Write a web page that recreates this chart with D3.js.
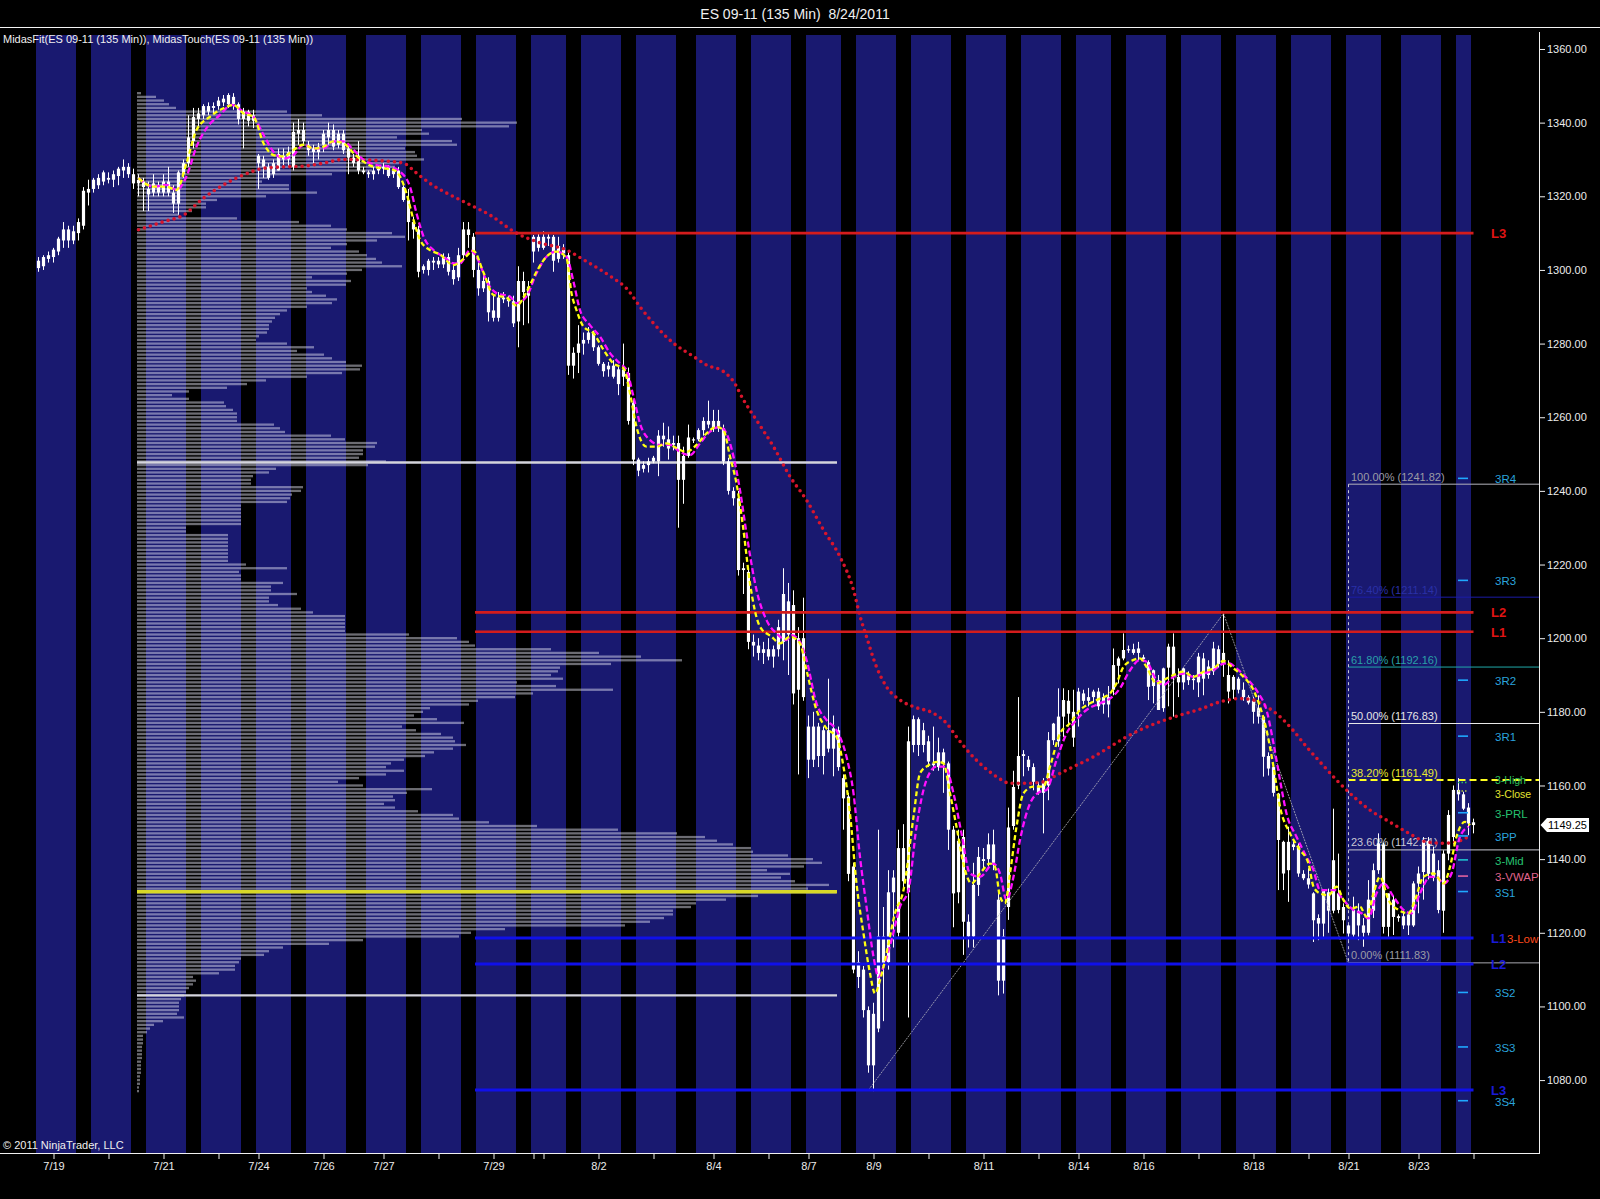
<!DOCTYPE html>
<html><head><meta charset="utf-8">
<script src="https://cdn.jsdelivr.net/npm/d3@7"></script>
<style>
html,body{margin:0;padding:0;background:#000;}
svg{display:block;}
text{font-family:"Liberation Sans",Arial,sans-serif;}
</style>
</head><body>
<svg id="chart" width="1600" height="1199"></svg>
<script>
// ---------------- DATA ----------------
const chartTitle = "ES 09-11 (135 Min)  8/24/2011";
const indicatorTitle = "MidasFit(ES 09-11 (135 Min)), MidasTouch(ES 09-11 (135 Min))";

// 135-minute bars, index 0..287
const opens = [
1300.5,1301,1303,1303.5,1305,1308,1311,1308,1310,1312,
1321,1322,1323,1324,1325,1324.5,1325.5,1327,1328,1326,
1323.5,1324,1322,1321,1323,1321,1324,1321,1318,1326,
1329,1335,1341,1342,1343,1344,1344.5,1345.5,1345,1347,
1345,1341,1343,1340.5,1331,1330,1328,1326,1327,1330,
1330,1328,1337,1338,1334,1333,1332,1334,1336,1338,
1334,1337,1333,1330.5,1331,1327,1326.5,1326,1327,1327.5,
1328,1326,1327,1322.5,1319,1313,1311,1300,1300,1302,
1302.5,1301.5,1303.5,1300,1298,1304,1311,1309,1300,1295,
1297,1289,1287,1292.5,1292,1291.5,1286,1297,1293,1305,
1309,1306,1309,1309,1303,1306,1304,1274,1277.5,1280,
1281,1283,1279,1274.5,1273,1274,1273,1271,1272,1264,
1248.5,1246,1247,1248,1248,1255,1254,1252.5,1253,1243,
1249.5,1254,1254,1256.5,1259,1257,1259,1257,1248,1240,
1238,1219,1218,1199,1198,1196,1197,1195,1197,1199,
1201,1209,1186,1200,1176,1167,1176,1168,1175,1170,
1175,1162,1157,1138,1112,1110,1099,1084,1094,1119,
1112,1131,1120,1143,1131,1171,1178,1171,1172,1166,
1165,1169,1166,1148,1131,1146,1123,1119,1133,1140,
1140,1144,1129,1107,1127,1149,1160,1168,1167,1165,
1160,1158,1160,1172.3,1172,1178.7,1183,1180,1180,1185,
1183,1184,1185.5,1182,1184,1186,1192.5,1194.5,1196.8,1197,
1196,1194.8,1193.5,1187,1188.6,1181,1192,1197.7,1189.5,1188,
1190,1189,1188,1194.5,1190,1191,1197,1193,1190,1186,
1189,1186,1184,1183,1181,1178.7,1168,1165,1157.8,1144.7,
1137,1144,1143.5,1136,1134.8,1130.7,1124,1122.5,1131,1126,
1130.7,1127,1122,1119.5,1126,1122,1120,1126,1137,1144,
1121.6,1129,1124,1124.5,1122,1122,1133.4,1136.5,1145,1135,
1137,1126,1141.5,1146,1158.8,1157.6,1154,1150];

const highs = [
1303.5,1304,1305,1306,1309,1313,1312,1312,1314,1322.5,
1324.5,1325,1326,1327,1326.5,1327,1328,1330,1329,1327.5,
1326,1325,1324,1326,1324,1326,1328,1323,1327,1330,
1342,1344,1344,1345,1345.5,1345.5,1347,1347.5,1348,1348,
1345.5,1344,1343.5,1343.5,1331.5,1331,1329,1330,1333,1333,
1333.5,1340,1341,1340,1335,1334,1334.5,1338,1340,1339.5,
1338,1338,1334,1331.5,1335,1328,1327,1328,1328.5,1329,
1328.5,1328,1328,1323,1322,1314.5,1312,1301.5,1303,1303.5,
1303.5,1304.5,1304.5,1302,1306,1313,1313,1310,1302,1299,
1298,1293,1294,1294,1293,1293,1301,1299.5,1297,1309.5,
1310,1310.5,1310,1309.5,1309,1307,1305,1279,1285,1283,
1284.5,1283.5,1279.5,1275,1275,1275.5,1274,1280,1273.5,1265,
1249,1248,1249,1249.5,1256.5,1258.5,1257.5,1255,1255,1252,
1258,1254.5,1257,1260,1264.5,1262,1262,1258,1249,1241,
1240,1220.5,1219,1201,1200,1199,1200,1198,1205,1219,
1215,1213,1203,1211,1179,1180,1177,1176,1189,1179,
1176,1163,1158,1139,1115,1111,1100,1101,1148,1127,
1137,1137,1148,1149.5,1176,1179,1178.5,1177,1173.5,1176,
1173,1170,1166.5,1149,1148,1148,1125,1139,1143.3,1143,
1147,1148,1131,1121,1154,1164,1184,1169.6,1168,1166,
1161,1162,1174.5,1177,1186.4,1186.4,1185.9,1186,1186.5,1186,
1186.5,1186,1186.5,1185,1187,1197.2,1195,1201.3,1198,1198.5,
1199,1195.5,1194,1191.5,1190,1192,1198.5,1201.3,1191.8,1192,
1191,1190,1196,1196,1194,1199,1198,1206.7,1194,1190,
1189.5,1188,1184.5,1184,1184.5,1179,1169,1166,1158,1145,
1148.8,1145.2,1144.3,1137,1137.5,1131,1125,1131.6,1132,1153.7,
1141.5,1128,1122.1,1129.8,1128,1124,1134.3,1138.8,1147,1144.5,
1130.7,1130,1125,1126,1125.5,1134,1138,1146,1146,1143.4,
1139.7,1142.4,1153.3,1160,1162,1158.3,1155.2,1151];

const lows = [
1299.5,1300,1302,1302,1304,1306,1306,1307,1308,1311,
1317.5,1321,1322,1323,1323.5,1322.5,1323,1325,1325,1322,
1320,1316,1316,1320,1320,1320,1320,1315.5,1315,1325,
1328,1333,1339,1341,1342,1342.5,1343.5,1344.5,1344,1343.5,
1339.5,1333,1339,1338.5,1322,1325,1324.5,1325,1327,1328,
1328,1327,1334,1334,1331,1329,1330,1332,1334,1332.5,
1333,1331.5,1326,1328,1326,1326,1325,1324.5,1326,1326,
1325,1325,1322,1318.5,1308,1308.5,1298,1299,1298.5,1300,
1300.5,1300.5,1298.5,1296,1297,1303,1306,1298,1293,1294,
1286,1286,1286,1291,1290,1284.5,1279,1285,1285.5,1302,
1305,1305.5,1306.5,1299.5,1302,1303,1271.5,1270.5,1272,1277,
1280,1278,1274,1271,1271,1270.5,1266,1268.5,1258,1247,
1244,1245,1245,1247.5,1244,1252,1248.5,1251,1230,1236.5,
1249,1253,1253.5,1255,1257,1256,1256,1247,1239,1236,
1217,1212,1197,1195,1194,1193,1194,1192,1195,1194,
1190,1182,1163,1183,1162,1165,1165,1163,1169,1162.5,
1164,1148,1134,1109,1105,1097,1082,1077,1093,1096,
1110,1116,1119,1132,1097,1169,1168,1169,1165,1164,
1164,1158,1142.5,1121.5,1128,1114,1116,1116,1130,1137,
1138,1137,1103,1103.5,1123.5,1148,1159,1162.5,1164,1158.7,
1157.5,1147,1156,1171,1170.5,1173.2,1176,1170.5,1176,1182,
1181.5,1182.5,1180.5,1179.5,1178.5,1184.5,1187.7,1194,1196,1195.5,
1194,1193.5,1183.2,1182.3,1180.5,1180,1181.5,1178.7,1184,1186,
1187.3,1186,1184,1184.5,1189,1190,1192,1189.5,1182.3,1183.5,
1185,1183,1182,1176.8,1176.8,1162.4,1162.7,1157,1131.6,1131.6,
1128.4,1142.4,1135.2,1134.3,1132,1117.5,1118,1118.9,1120,1125.3,
1125.3,1119.8,1118,1118.9,1118,1116.2,1119.3,1124,1136,1119.8,
1118.9,1119.4,1123,1121,1119.4,1121.6,1125.3,1129,1134.5,1134,
1125.3,1120,1139.7,1144,1155.9,1153.3,1146.5,1147];

const closes = [
1302.5,1303.5,1304,1305.5,1308.5,1311,1308,1310.5,1313,1321.5,
1322,1324.5,1325,1326.5,1324.5,1326,1327.5,1328,1326,1323.5,
1324.5,1322.5,1320.5,1323.5,1321,1324,1321,1318,1326.5,1329,
1336,1341.5,1342.5,1344.5,1344.5,1344.5,1346,1346.5,1347.5,1345,
1341,1343,1340.5,1342,1329,1328,1325,1329,1331.5,1331,
1332,1337.5,1338,1335,1332.5,1332,1333.5,1337,1338,1333.5,
1337,1332.5,1330.5,1329,1327,1326.5,1326,1327,1327.5,1328,
1325.5,1327,1322.5,1319,1313,1311,1299.5,1301,1302.5,1302.5,
1301.5,1303.5,1299.5,1297.5,1304,1311,1309.5,1300,1295,1297,
1288.5,1287,1292.5,1292,1291.5,1285.5,1297,1294,1295.5,1309,
1306,1309,1308.5,1302.5,1306.5,1304.5,1274,1277.5,1280,1281,
1283,1279,1274.5,1272.5,1274,1271,1269,1273,1259,1248.5,
1245.5,1247,1248,1249,1255,1254,1251.5,1253,1243,1249.5,
1254.5,1254,1256.5,1259,1258,1259,1257,1248,1240,1238,
1218.5,1218.5,1199,1198,1196,1197,1195,1197,1203,1212,
1210,1185,1200,1184,1167,1176,1168,1175,1170,1175.5,
1165,1156.5,1136,1110,1108,1099,1084,1098,1119,1111,
1131,1135,1143,1134,1172,1178,1171,1175,1166.5,1165.5,
1169,1166,1148,1130.7,1145,1123,1119,1133,1140.6,1139.5,
1144,1139,1107,1119,1148.6,1159.6,1168,1168.5,1165,1161,
1158,1161,1172.3,1176.8,1178.7,1183.2,1179.5,1173,1185.5,1183,
1184,1185.5,1181.5,1184,1182,1192.7,1194.5,1196.8,1197,1196,
1197.2,1194.3,1186.8,1191.3,1180.5,1191.8,1197.7,1189.5,1188,1191.8,
1188.6,1188.6,1195,1189,1192.3,1197.2,1193,1196,1185.5,1189.5,
1186,1184,1182.5,1180,1178.7,1167.8,1164.6,1158,1145.2,1136.1,
1144.7,1143.3,1136.1,1134.8,1133.1,1123.4,1122.5,1131.6,1126,1139.7,
1126.2,1123.4,1119.8,1126.2,1122,1120,1129,1137,1144.3,1121.6,
1130.7,1124.3,1124.5,1122,1125,1133.4,1136.1,1145.2,1136,1141.5,
1126.2,1141.5,1152,1158.8,1157.6,1153.7,1149.7,1149.25];

const lastPrice = 1149.25;

// session shading (first bar, number of bars) for each blue session band
const sessionStartBars = [0,11,22,33,44,54,66,77,88,99,109,120,132,143,154,164,175,186,197,208,218,229,240,251,262,273,284];
const sessionBarCounts = [8,8,8,8,7,8,8,8,8,7,8,8,8,8,7,8,8,8,8,7,8,8,8,8,7,8,3];

// date axis
const dateTickBars   = [3,14,25,36,44,57,69,80,91,99,101,112,123,135,146,154,167,178,189,200,208,221,232,243,254,262,276,287];
const dateTickLabels = ["7/19","","7/21","","7/24","7/26","7/27","","7/29","","","8/2","","8/4","","8/7","8/9","","8/11","","8/14","8/16","","8/18","","8/21","8/23",""];
const priceTicks = [1080,1100,1120,1140,1160,1180,1200,1220,1240,1260,1280,1300,1320,1340,1360];

// Midas indicator lines: [bar, price]
const midasFitYellow = [[20,1324.9],[23,1322.6],[25.6,1322.6],[27.6,1321.7],[29.6,1329],[31.6,1338],[34.3,1341.6],[37,1343.9],[39,1344.8],[41,1342.5],[43,1341.6],[45,1334.4],[47,1331.2],[49,1330.8],[51,1332.6],[53,1334],[55,1333],[57,1333.5],[59,1334.9],[61,1334.4],[63,1331.7],[65,1329.4],[67,1328],[69,1327.6],[71,1327.2],[72.3,1325.4],[73.6,1320.8],[75,1313.6],[76.3,1308.2],[78.3,1305.4],[80.3,1304.2],[83,1301.3],[85,1303],[87,1305.2],[89,1299.3],[91,1293.2],[93.6,1292.5],[95.6,1290.3],[97.6,1294],[99.6,1299.5],[101.6,1303.6],[103.6,1305],[105.6,1303.2],[106.6,1293.7],[107.6,1289.1],[109,1284.6],[111,1282.8],[113,1278.3],[115,1274.6],[117,1273.3],[118.3,1266.5],[119.6,1257.4],[121.6,1252],[123.6,1252],[125.6,1252.9],[127.6,1251.6],[129.6,1250.6],[131.6,1252.5],[133.6,1255.6],[135.6,1257.4],[137,1256.5],[138.3,1249.3],[139.6,1242],[140.9,1230.3],[142.3,1214.9],[144.3,1203.1],[146.6,1200.4],[148.3,1198.6],[150.3,1200.4],[152.3,1198.6],[153.6,1191.3],[155.6,1180.5],[157.6,1175.5],[159.6,1173.2],[161,1165.1],[162.3,1152.4],[163.6,1133.4],[165,1119.8],[166.3,1109],[167.3,1103.5],[168.3,1107.1],[169.6,1114.4],[171.3,1125.3],[173,1131.6],[175,1151.5],[176.3,1163.3],[178,1165.5],[180,1166.4],[181,1166],[182.3,1157.9],[183.6,1148.8],[185.3,1137],[186.6,1133.4],[188.3,1136.1],[190.3,1138.8],[191.3,1137.9],[192.3,1129.8],[193.3,1128],[194.3,1136.1],[195.6,1148.8],[197,1157.9],[199,1159.7],[201,1159.7],[202.3,1165.1],[204.3,1174.1],[206.3,1176.9],[208.3,1180.5],[210.3,1182.3],[212.3,1183.6],[214.3,1185],[215.6,1187.7],[217,1192.2],[219,1194.1],[220.3,1194.5],[221.6,1192.2],[223.6,1187.7],[225,1188.6],[227,1190],[229,1190.9],[231,1189.5],[233,1190.9],[235,1191.8],[237,1193.8],[239,1191.8],[241,1189.5],[243,1185.9],[244.3,1181.4],[245.6,1175.1],[247,1165.1],[248.3,1154.2],[250.3,1147],[252.3,1142.5],[254,1138.8],[255,1132.5],[256.3,1130.7],[258,1130.2],[259.6,1132.5],[261,1128.9],[262.3,1126.6],[264.3,1127.1],[265.6,1124.4],[267,1130.7],[268.3,1135.2],[270,1128.9],[272,1126.2],[274,1125.3],[275.3,1128.9],[277,1135.2],[279,1136.1],[281,1133.4],[282.3,1137.9],[283.6,1146.1],[285.3,1150.1],[286.3,1149.2]];

const midasTouchMagenta = [[20,1324.9],[23,1322.6],[25.6,1323.1],[27.6,1321.7],[29.6,1325.4],[31.6,1333.5],[33.6,1338.5],[36.3,1342.1],[38.6,1344.8],[41,1343],[43,1341.6],[45,1336.7],[47,1332.1],[49,1330.3],[51,1331.2],[53,1334],[55,1333],[57,1333],[59,1334.9],[61,1334.9],[63,1332.6],[65,1329.9],[67.6,1328.5],[70.3,1328],[72.3,1326.7],[74.3,1322.6],[75.6,1315.4],[77,1309.1],[79,1305.4],[81,1303.6],[83,1301.8],[84.3,1301.8],[86.3,1305.4],[88,1302.5],[89.6,1297],[91.6,1293.7],[94.3,1292.8],[95.6,1291],[97.6,1292.8],[99.6,1299.1],[101.6,1303.6],[103.6,1305],[105.6,1303.6],[107,1296.8],[108.3,1289.1],[110.3,1285],[112.3,1281.9],[114.3,1277.4],[116.3,1274.6],[117.6,1272.8],[119,1265.6],[120.3,1258.3],[122.3,1253.8],[124.3,1252.5],[126.3,1252.5],[128.3,1250.6],[130.3,1249.7],[132.3,1252.9],[134.3,1256.1],[136.3,1257.4],[137.6,1255.6],[139,1249.3],[140.3,1240.2],[141.6,1228.5],[143.6,1213.1],[145.6,1204.9],[147.6,1201.3],[149.6,1199.5],[150.6,1200.8],[152.3,1199],[153.6,1194.1],[155.6,1182.3],[157.6,1177.8],[159.6,1175],[161.6,1167.8],[163,1157.9],[164.3,1140.6],[165.6,1127.1],[167,1113.5],[168,1108],[169,1110.8],[170.6,1118],[172.3,1127.1],[174,1131.6],[175.6,1148.8],[177.6,1161.5],[179.6,1165.1],[181.3,1165.1],[183,1157.9],[184.6,1147],[186.3,1136.1],[188.3,1135.2],[191,1138.8],[192.3,1136.1],[193.6,1128.9],[195,1135.2],[196.3,1145.2],[198.3,1155.1],[200.3,1158.3],[201.6,1158.8],[203.6,1166.9],[205.6,1174.1],[207.6,1177.8],[209.6,1180.5],[212.3,1182.3],[214.3,1183.6],[216.3,1186.4],[218.3,1191.3],[220.3,1194.1],[221.6,1193.6],[223.6,1188.6],[225,1187.3],[227,1189.5],[229,1190.4],[231,1189.5],[233,1190.4],[235,1191.3],[237,1193.1],[238,1193.2],[240,1191.3],[242,1188.6],[244,1185],[245.6,1180.5],[247,1171.4],[248.3,1161.5],[249.6,1152.4],[251.6,1146.1],[253.6,1140.6],[255,1137],[256.3,1131.6],[257.6,1131.6],[259.3,1131.6],[261,1128.9],[263,1126.2],[264.6,1125.3],[266,1123.9],[267.6,1130.7],[269,1133.4],[271,1129.8],[273,1126.2],[274.6,1125.3],[276.3,1130.7],[278.3,1135.2],[279.6,1135.2],[281,1133.4],[282.6,1136.1],[284.3,1146.1],[286,1148.8]];

const midasSupportRed = [[20,1310.9],[25,1313.1],[29,1314.9],[33,1319.5],[37,1323.1],[41,1325.8],[45,1327.6],[49,1328],[53,1328.2],[57,1329],[61,1330],[65,1329.9],[69,1329.6],[73,1329],[75.6,1326.3],[78.3,1323.5],[82.3,1320.4],[86.3,1317.7],[90.3,1314.9],[95.6,1310],[100,1307.5],[105.6,1305.4],[109.6,1302.3],[115,1297.7],[117.6,1295],[120.3,1290],[123,1285.5],[127,1280.1],[131,1276.5],[133.6,1274.2],[137,1272.4],[139,1269.7],[141,1264.7],[143.6,1259.2],[147,1252],[150.3,1243.9],[153.6,1237.5],[157,1229.4],[160.3,1222.1],[163,1213.1],[164.3,1206],[165.6,1200.4],[167.6,1192.2],[169.6,1186.8],[172.3,1183.2],[175,1181.4],[179,1179.6],[181.6,1176.9],[183.6,1173.2],[186.3,1168.7],[189,1165.1],[191.6,1162.4],[194.3,1160.6],[197.6,1160.6],[201,1161],[203.6,1162.8],[207,1165.1],[211,1167.8],[214.3,1170.5],[217.6,1173.2],[221,1175.5],[224.3,1177.3],[228.3,1179.1],[232.3,1180.7],[236.3,1182.7],[240.3,1183.6],[243,1183.2],[245.6,1181.4],[248.3,1178.7],[250.9,1175],[253.6,1170.5],[256.3,1166.4],[259.6,1161.5],[263,1157],[266.3,1153.3],[269.6,1150.6],[273.6,1147.4],[277.6,1144.7],[281,1144.3],[283.6,1144.7],[286,1146.1]];

// volume profile: one value per price point from profileTopPrice downwards
const profileTopPrice = 1348;
const profileVolume = [
4,19,27,32,39,150,185,325,380,372,
285,292,260,315,320,268,278,280,287,262,
258,235,195,132,125,152,152,180,129,80,
69,69,55,42,100,162,194,210,255,268,
240,210,194,222,230,239,245,265,225,210,
175,214,209,170,175,189,200,195,170,150,
143,138,135,132,132,130,122,119,150,177,
160,187,195,209,225,223,205,170,129,110,
90,52,35,52,87,89,96,100,100,100,
137,143,148,194,208,240,238,226,226,222,
249,231,139,132,116,114,114,166,164,155,
153,150,104,104,104,104,104,104,49,49,
91,91,91,91,91,91,91,91,109,150,
102,104,104,146,134,134,160,132,132,141,
164,176,208,208,208,208,208,272,320,332,
338,414,462,504,545,474,423,421,414,426,
380,419,476,396,378,341,332,293,286,277,
300,327,265,279,304,316,318,329,316,297,
288,267,254,249,267,249,222,201,226,295,
270,256,258,247,258,281,316,322,352,400,
481,540,568,580,596,614,616,651,676,685,
667,630,653,644,658,692,671,699,621,589,
559,554,536,536,527,513,488,368,334,322,
226,192,146,132,127,104,102,98,98,82,
56,59,56,52,49,47,44,42,42,42,
40,47,26,17,13,10,6,6,6,5,
5,5,5,4,4,4,4,3,3,3,2,2];
const pocPrice = 1131;
const valueAreaHigh = 1247.7;
const valueAreaLow = 1103;

// drawn levels
const redLevelNames  = ["L3","L2","L1"];
const redLevelPrices = [1310, 1207, 1201.75];
const blueLevelNames  = ["L1","L2","L3"];
const blueLevelPrices = [1118.6, 1111.5, 1077.3];

// Fibonacci retracement
const fibPercents = ["100.00%","76.40%","61.80%","50.00%","38.20%","23.60%","0.00%"];
const fibPrices   = [1241.82, 1211.14, 1192.16, 1176.83, 1161.49, 1142.51, 1111.83];
const fibStartBar = 262;

// trend line swings [bar, price]
const swingPoints = [[166,1077.3],[237,1206.7],[262,1111.8]];

// pivot levels
const pivotNames  = ["3R4","3R3","3R2","3R1","3-High","3-Close","3-PRL","3PP","3-Mid","3-VWAP","3S1","3-Low","3S2","3S3","3S4"];
const pivotPrices = [1243.4,1215.7,1188.6,1173.4,1160.8,1158.5,1152.6,1146.3,1139.8,1135.4,1131.2,1118.6,1103.8,1089.0,1074.4];

// ---------------- STYLES ----------------
// dy: label baseline offset from level, dx: label x offset, fs: font size
const pivotStyle = {
  "3R4":{c:"#2aa3dc",m:"#1fa8ff"}, "3R3":{c:"#2aa3dc",m:"#1fa8ff"}, "3R2":{c:"#2aa3dc",m:"#1fa8ff"}, "3R1":{c:"#2aa3dc",m:"#1fa8ff"},
  "3-High":{c:"#2cc25c",m:"#2cc25c",dot:true,dy:1,fs:10.5}, "3-Close":{c:"#e4e430",m:"#b8d040",dot:true,dy:7,fs:10.5},
  "3-PRL":{c:"#26c070",m:"#1fa8ff"}, "3PP":{c:"#2aa3dc",m:"#1fa8ff"}, "3-Mid":{c:"#26c070",m:"#1fc0d0"},
  "3-VWAP":{c:"#e0648e",m:"#e060a0"}, "3S1":{c:"#2aa3dc",m:"#1fa8ff"}, "3-Low":{c:"#ff4a1c",m:null,dx:12},
  "3S2":{c:"#2aa3dc",m:"#1fa8ff"}, "3S3":{c:"#2aa3dc",m:"#1fa8ff"}, "3S4":{c:"#2aa3dc",m:"#1fa8ff"}
};
const fibTextColors = ["#9c9ca4","#2a30a8","#2aa0a8","#e6e6e6","#e8e830","#c8c8d4","#9c9ca4"];
const fibLineColors = ["#b4b4bc","#1c1ca8","#20a8a8","#e8e8e8","#ffff20","#c8c8d0","#a8a8b0"];

// ---------------- LAYOUT ----------------
const W = 1600, H = 1199;
const plotTop = 28, plotBottom = 1153, axisX = 1539, bandTop = 35;
const svg = d3.select("#chart");

const x = d3.scaleLinear().domain([0, 287]).range([38.5, 1473.5]);
const y = d3.scaleLinear().domain([1365.7, 1060.2]).range([plotTop, plotBottom]);
const barW = x(1) - x(0);
const volLen = d3.scaleLinear().domain([0, 700]).range([0, 700]);

svg.append("rect").attr("width", W).attr("height", H).attr("fill", "#000");

// title
svg.append("text").attr("x", 795).attr("y", 18.5).attr("text-anchor", "middle")
  .attr("fill", "#f0f0f0").attr("font-size", 14).style("white-space", "pre")
  .attr("xml:space", "preserve").text(chartTitle);
svg.append("line").attr("x1", 0).attr("x2", W).attr("y1", 27.5).attr("y2", 27.5)
  .attr("stroke", "#f4f4f4").attr("stroke-width", 1);

// session bands
svg.append("g").selectAll("rect").data(sessionStartBars).join("rect")
  .attr("x", d => x(d) - barW / 2)
  .attr("width", (d, i) => sessionBarCounts[i] * barW)
  .attr("y", bandTop).attr("height", plotBottom - bandTop)
  .attr("fill", "#191970");

// indicator caption
svg.append("text").attr("x", 3).attr("y", 42.5).attr("fill", "#f0f0f0")
  .attr("font-size", 11).text(indicatorTitle);

// volume profile
const px0 = x(19.7);
const profRows = profileVolume.map((v, k) => ({price: profileTopPrice - k, v}));
svg.append("g").selectAll("rect").data(profRows).join("rect")
  .attr("x", px0).attr("y", d => y(d.price) - 1.15)
  .attr("width", d => volLen(d.v)).attr("height", 2.3)
  .attr("fill", "rgba(235,235,248,0.46)");

// value area & POC lines
[valueAreaHigh, valueAreaLow].forEach(p => {
  svg.append("line").attr("x1", px0).attr("x2", px0 + volLen(700))
    .attr("y1", y(p)).attr("y2", y(p)).attr("stroke", "#d4d4dc").attr("stroke-width", 2.4);
});
svg.append("line").attr("x1", px0).attr("x2", px0 + volLen(700))
  .attr("y1", y(pocPrice) - 0.5).attr("y2", y(pocPrice) - 0.5)
  .attr("stroke", "#d8d828").attr("stroke-width", 3.4);

// Fibonacci lines
const fibG = svg.append("g");
fibPrices.forEach((p, i) => {
  const ln = fibG.append("line").attr("x1", x(fibStartBar)).attr("x2", axisX)
    .attr("y1", y(p)).attr("y2", y(p)).attr("stroke", fibLineColors[i])
    .attr("stroke-width", i === 4 ? 2 : 1);
  if (i === 4) ln.attr("stroke-dasharray", "7,4");
  fibG.append("text").attr("x", x(fibStartBar) + 2.5).attr("y", y(p) - 3.5)
    .attr("fill", fibTextColors[i]).attr("font-size", 11)
    .text(fibPercents[i] + " (" + p.toFixed(2) + ")");
});
fibG.append("line").attr("x1", x(fibStartBar)).attr("x2", x(fibStartBar))
  .attr("y1", y(fibPrices[0])).attr("y2", y(fibPrices[6]))
  .attr("stroke", "#c8c8d0").attr("stroke-width", 1).attr("stroke-dasharray", "3,3");

// candles
const cg = svg.append("g");
d3.range(opens.length).forEach(i => {
  const xc = x(i);
  cg.append("line").attr("x1", xc).attr("x2", xc).attr("y1", y(highs[i])).attr("y2", y(lows[i]))
    .attr("stroke", "#fff").attr("stroke-width", 1);
  const top = y(Math.max(opens[i], closes[i])), bot = y(Math.min(opens[i], closes[i]));
  cg.append("rect").attr("x", xc - 1.6).attr("width", 3.2)
    .attr("y", top).attr("height", Math.max(1.2, bot - top)).attr("fill", "#fff");
});

// trend lines between swings
svg.append("path").datum(swingPoints)
  .attr("d", d3.line().x(d => x(d[0])).y(d => y(d[1])))
  .attr("fill", "none").attr("stroke", "#b8b8c0").attr("stroke-width", 0.8)
  .attr("stroke-dasharray", "2,1");

// level lines
const levelX1 = x(87.3), levelX2 = x(287);
redLevelPrices.forEach((p, i) => {
  svg.append("line").attr("x1", levelX1).attr("x2", levelX2).attr("y1", y(p)).attr("y2", y(p))
    .attr("stroke", "#d41c1c").attr("stroke-width", 2.6);
  svg.append("text").attr("x", axisX - 48).attr("y", y(p) + 5).attr("fill", "#e01414")
    .attr("font-size", 13).attr("font-weight", "bold").text(redLevelNames[i]);
});
blueLevelPrices.forEach((p, i) => {
  svg.append("line").attr("x1", levelX1).attr("x2", levelX2).attr("y1", y(p)).attr("y2", y(p))
    .attr("stroke", "#1010ea").attr("stroke-width", 3);
  svg.append("text").attr("x", axisX - 48).attr("y", y(p) + 5).attr("fill", "#1a1ad8")
    .attr("font-size", 13).attr("font-weight", "bold").text(blueLevelNames[i]);
});

// Midas lines
const ml = d3.line().x(d => x(d[0])).y(d => y(d[1])).curve(d3.curveMonotoneX);
svg.append("path").datum(midasSupportRed).attr("d", ml).attr("fill", "none")
  .attr("stroke", "#d8142c").attr("stroke-width", 3.6).attr("stroke-linecap", "round")
  .attr("stroke-dasharray", "0,6.2");
svg.append("path").datum(midasTouchMagenta).attr("d", ml).attr("fill", "none")
  .attr("stroke", "#ff10ff").attr("stroke-width", 2.3).attr("stroke-dasharray", "6,3");
svg.append("path").datum(midasFitYellow).attr("d", ml).attr("fill", "none")
  .attr("stroke", "#ffff10").attr("stroke-width", 2.3).attr("stroke-dasharray", "5,3");

// pivot marks and labels
const pg = svg.append("g");
pivotNames.forEach((n, i) => {
  const st = pivotStyle[n], py = y(pivotPrices[i]);
  if (st.m) {
    const mk = pg.append("line").attr("x1", x(283.9)).attr("x2", x(285.9))
      .attr("y1", py).attr("y2", py).attr("stroke", st.m).attr("stroke-width", 1.6);
    if (st.dot) mk.attr("stroke-dasharray", "1.5,2");
  }
  pg.append("text").attr("x", axisX - 44 + (st.dx || 0)).attr("y", py + (st.dy !== undefined ? st.dy : 5))
    .attr("fill", st.c).attr("font-size", st.fs || 11.5).text(n);
});

// right price axis
const yAxis = svg.append("g").attr("transform", `translate(${axisX},0)`)
  .call(d3.axisRight(y).tickValues(priceTicks).tickFormat(d3.format(".2f")).tickSize(6).tickPadding(2));
yAxis.select(".domain").remove();
yAxis.selectAll(".tick line").attr("stroke", "#f0f0f0");
yAxis.selectAll(".tick text").attr("fill", "#ececec").attr("font-size", 11)
  .attr("font-family", "Liberation Sans, Arial, sans-serif");
svg.append("line").attr("x1", axisX + 0.5).attr("x2", axisX + 0.5).attr("y1", 32).attr("y2", plotBottom)
  .attr("stroke", "#f0f0f0").attr("stroke-width", 1);

// bottom date axis
const xAxis = svg.append("g").attr("transform", `translate(0,${plotBottom})`)
  .call(d3.axisBottom(x).tickValues(dateTickBars).tickFormat((d, i) => dateTickLabels[i]).tickSize(6).tickPadding(3));
xAxis.select(".domain").remove();
xAxis.selectAll(".tick line").attr("stroke", "#f0f0f0");
xAxis.selectAll(".tick text").attr("fill", "#ececec").attr("font-size", 11)
  .attr("font-family", "Liberation Sans, Arial, sans-serif");
svg.append("line").attr("x1", 0).attr("x2", axisX + 1).attr("y1", plotBottom + 0.5).attr("y2", plotBottom + 0.5)
  .attr("stroke", "#f0f0f0").attr("stroke-width", 1);

// last price marker
const ly = y(lastPrice);
svg.append("path")
  .attr("d", `M${axisX + 1.5},${ly} L${axisX + 8},${ly - 7} L1589,${ly - 7} L1589,${ly + 7} L${axisX + 8},${ly + 7} Z`)
  .attr("fill", "#fff");
svg.append("text").attr("x", axisX + 9).attr("y", ly + 4).attr("fill", "#000")
  .attr("font-size", 11).text(lastPrice.toFixed(2));

// copyright
svg.append("text").attr("x", 3).attr("y", 1149).attr("fill", "#f0f0f0")
  .attr("font-size", 11).text("\u00a9 2011 NinjaTrader, LLC");
</script>
</body></html>
